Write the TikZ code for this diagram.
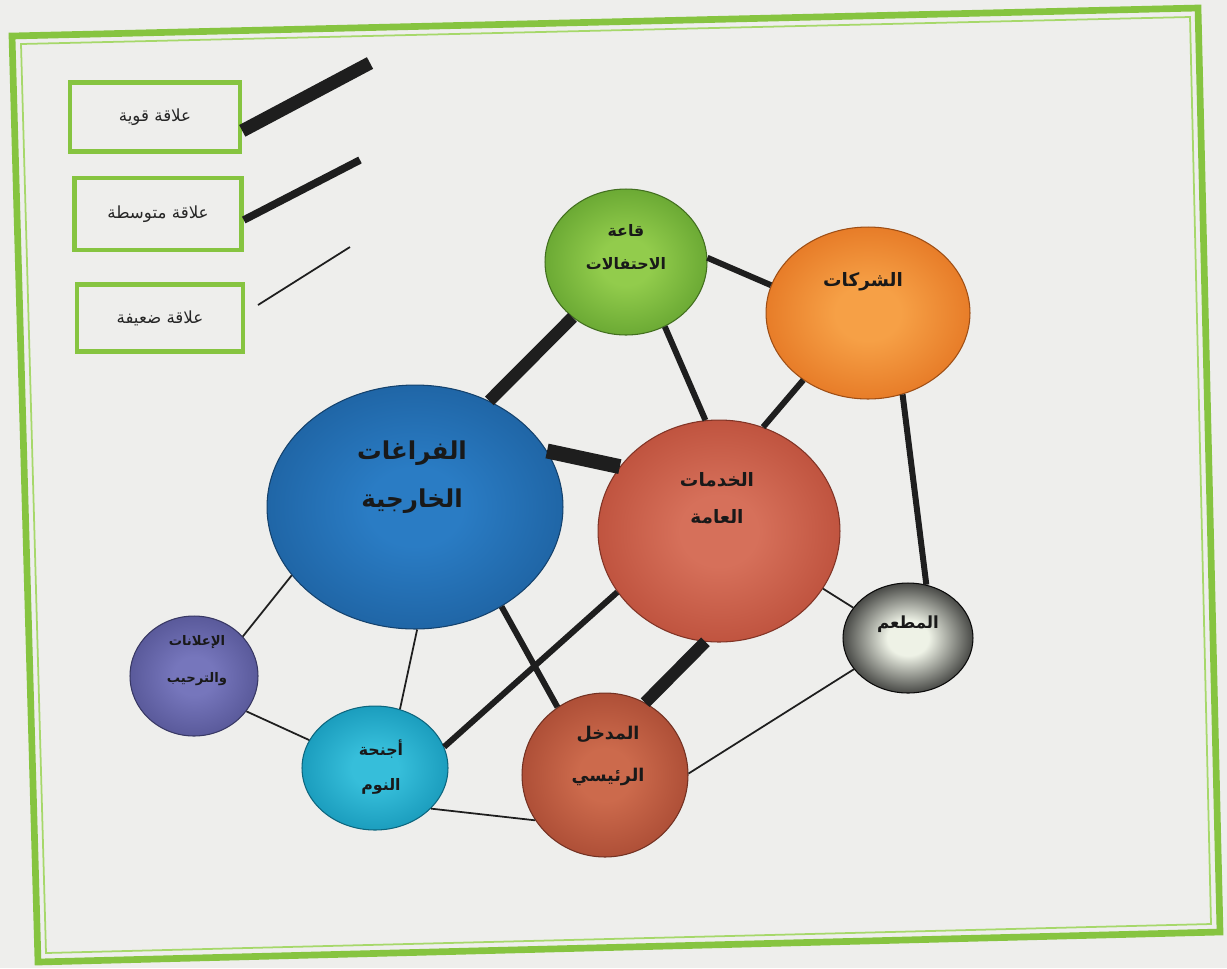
\documentclass[tikz,border=0pt]{standalone}
\usepackage{fontspec}
\usetikzlibrary{shapes.geometric}
\TeXXeTstate=1
\newfontfamily\arabicfont[Script=Arabic]{DejaVu Sans}
\newcommand\rl[1]{\beginR #1\endR}
\definecolor{bg}{HTML}{EEEEEC}
\definecolor{frameg}{HTML}{86C440}
\definecolor{framel}{HTML}{A6D86A}
\definecolor{link}{HTML}{1E1E1E}
\definecolor{gIn}{HTML}{92CC4C}\definecolor{gOut}{HTML}{5E9E2C}
\definecolor{oIn}{HTML}{F6A046}\definecolor{oOut}{HTML}{E2701E}
\definecolor{bIn}{HTML}{2A7CC4}\definecolor{bOut}{HTML}{1C5E9C}
\definecolor{rIn}{HTML}{D6705A}\definecolor{rOut}{HTML}{B84A36}
\definecolor{mIn}{HTML}{EEF2E6}\definecolor{mOut}{HTML}{0E0E0E}
\definecolor{pIn}{HTML}{7676BC}\definecolor{pOut}{HTML}{50508F}
\definecolor{cIn}{HTML}{36BEDA}\definecolor{cOut}{HTML}{1292B4}
\definecolor{eIn}{HTML}{CC6A4C}\definecolor{eOut}{HTML}{A44630}
\colorlet{cA}{white}\colorlet{cB}{black}
\pgfdeclareradialshading[cA,cB]{orbsh}{\pgfpoint{0bp}{0bp}}{color(0bp)=(cA); color(8bp)=(cA); color(31bp)=(cB); color(50bp)=(cB)}
\tikzset{
  orb/.style 2 args={ellipse, inner sep=0pt, draw=#2!70!black, line width=0.6pt,
    /utils/exec={\colorlet{cA}{#1}\colorlet{cB}{#2}}, shade, shading=orbsh},
  lbl/.style={align=center, inner sep=0pt, text=black!90},
  legbox/.style={draw=frameg, line width=2.6pt, inner sep=0pt, text=black!85,
    font=\arabicfont\fontsize{9.5}{12}\selectfont},
  strongln/.style={draw=link, line width=7pt},
  strongerln/.style={draw=link, line width=8.5pt},
  mediumln/.style={draw=link, line width=3.4pt},
  weakln/.style={draw=link, line width=1pt},
}
\begin{document}
\begin{tikzpicture}[x=0.02cm, y=-0.02cm]
\useasboundingbox (0,0) rectangle (1227,968);
\fill[bg] (0,0) rectangle (1227,968);
% frame
\draw[frameg, line width=3.8pt, line join=miter] (12,36) -- (1198,8) -- (1220,932) -- (38,962) -- cycle;
\draw[framel, line width=1pt] (21,44) -- (1190,17) -- (1211,924) -- (46,953) -- cycle;

% legend
\node[legbox, minimum width=3.4cm, minimum height=1.38cm] (box1) at (155,117) {\rl{علاقة قوية}};
\node[legbox, minimum width=3.34cm, minimum height=1.44cm] (box2) at (158,214) {\rl{علاقة متوسطة}};
\node[legbox, minimum width=3.32cm, minimum height=1.34cm] (box3) at (160,318) {\rl{علاقة ضعيفة}};
\coordinate (s1) at (370,63);
\coordinate (m1) at (360,160);
\coordinate (w0) at (258,305);
\coordinate (w1) at (350,247);
\draw[draw=link, line width=7.5pt] (box1.-9) -- (s1);
\draw[draw=link, line width=4.3pt] (box2.-4) -- (m1);
\draw[weakln] (w0) -- (w1);

% circles
\node[orb={gIn}{gOut}, minimum width=3.24cm, minimum height=2.92cm] (G) at (626,262) {};
\node[orb={oIn}{oOut}, minimum width=4.08cm, minimum height=3.44cm] (O) at (868,313) {};
\node[orb={bIn}{bOut}, minimum width=5.92cm, minimum height=4.88cm] (B) at (415,507) {};
\node[orb={rIn}{rOut}, minimum width=4.84cm, minimum height=4.44cm] (R) at (719,531) {};
\node[orb={mIn}{mOut}, minimum width=2.6cm, minimum height=2.2cm] (M) at (908,638) {};
\node[orb={pIn}{pOut}, minimum width=2.56cm, minimum height=2.4cm] (P) at (194,676) {};
\node[orb={cIn}{cOut}, minimum width=2.92cm, minimum height=2.48cm] (C) at (375,768) {};
\node[orb={eIn}{eOut}, minimum width=3.32cm, minimum height=3.28cm] (E) at (605,775) {};

% labels
\node[lbl, font=\arabicfont\bfseries\fontsize{9}{19}\selectfont] (Gt) at (626,247) {\rl{قاعة}\\\rl{الاحتفالات}};
\node[lbl, font=\arabicfont\bfseries\fontsize{10.5}{20}\selectfont] (Ot) at (863,282) {\rl{الشركات}};
\node[lbl, font=\arabicfont\bfseries\fontsize{14}{27}\selectfont] (Bt) at (412,477) {\rl{الفراغات}\\\rl{الخارجية}};
\node[lbl, font=\arabicfont\bfseries\fontsize{10.5}{21}\selectfont] (Rt) at (717,498) {\rl{الخدمات}\\\rl{العامة}};
\node[lbl, font=\arabicfont\bfseries\fontsize{9.5}{12}\selectfont] (Mt) at (908,624) {\rl{المطعم}};
\node[lbl, font=\arabicfont\bfseries\fontsize{7.5}{21}\selectfont] (Pt) at (197,661) {\rl{الإعلانات}\\\rl{والترحيب}};
\node[lbl, font=\arabicfont\bfseries\fontsize{9}{20}\selectfont] (Ct) at (381,767) {\rl{أجنحة}\\\rl{النوم}};
\node[lbl, font=\arabicfont\bfseries\fontsize{10}{24}\selectfont] (Et) at (608,756) {\rl{المدخل}\\\rl{الرئيسي}};

% connectors
\draw[strongln] (G.226) -- (B.55);
\draw[mediumln] (G.3) -- (O.164.5);
\draw[mediumln] (G.301) -- (R.97);
\draw[mediumln] (O.226) -- (R.67.5);
\draw[mediumln] (O.293.5) -- (M.71);
\draw[strongerln] (B.23.8) -- (R.147);
\draw[weakln] (B.209) -- (P.39);
\draw[weakln] (B.271) -- (C.67);
\draw[mediumln] (B.311.5) -- (E.125);
\draw[mediumln] (R.211.5) -- (C.17);
\draw[strongln] (R.263) -- (E.61);
\draw[weakln] (R.331) -- (M.151);
\draw[weakln] (P.326) -- (C.157);
\draw[weakln] (C.324) -- (E.213.5);
\draw[weakln] (E.1.5) -- (M.210);
\end{tikzpicture}
\end{document}
